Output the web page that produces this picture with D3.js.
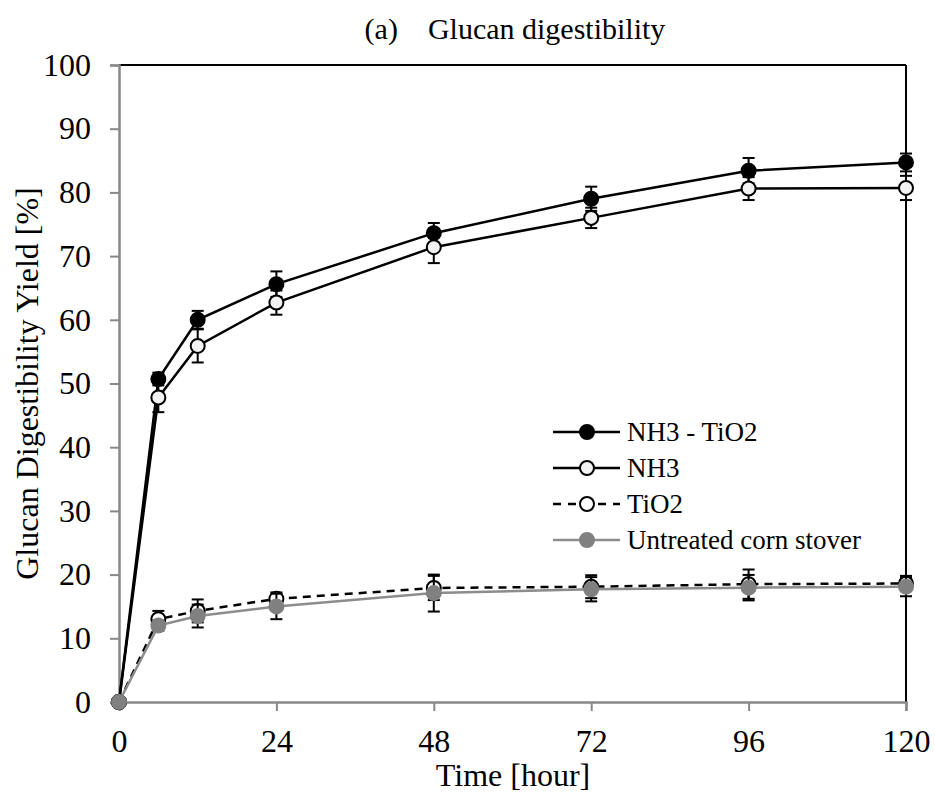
<!DOCTYPE html>
<html>
<head>
<meta charset="utf-8">
<script src="https://cdn.jsdelivr.net/npm/d3@7"></script>
<style>
html,body{margin:0;padding:0;background:#fff;}
svg text{font-family:"Liberation Serif","Times New Roman",serif;fill:#000;}
</style>
</head>
<body>
<svg id="chart" width="935" height="794"></svg>
<script>
const times = [0, 6, 12, 24, 48, 72, 96, 120];
const xTicks = [0, 24, 48, 72, 96, 120];
const yTicks = [0, 10, 20, 30, 40, 50, 60, 70, 80, 90, 100];

const seriesNames = ["NH3 - TiO2", "NH3", "TiO2", "Untreated corn stover"];
const nh3tio2 = [0, 50.7, 60.0, 65.6, 73.6, 79.0, 83.4, 84.7];
const nh3tio2Err = [0, 1.0, 1.4, 2.0, 1.6, 1.9, 2.0, 1.4];
const nh3 = [0, 47.8, 55.9, 62.7, 71.4, 76.0, 80.6, 80.7];
const nh3Err = [0, 2.3, 2.6, 1.9, 2.5, 1.6, 1.8, 1.9];
const tio2 = [0, 13.0, 14.3, 16.2, 17.9, 18.1, 18.5, 18.6];
const tio2Err = [0, 1.3, 1.8, 1.0, 1.9, 1.8, 2.3, 1.2];
const untreated = [0, 12.0, 13.5, 15.0, 17.1, 17.7, 17.95, 18.1];
const untreatedErr = [0, 0.8, 1.8, 2.0, 2.9, 1.9, 2.0, 1.5];

const styles = [
  {line:"#000", dash:null, fill:"#000", stroke:"#000", lw:2.5},
  {line:"#000", dash:null, fill:"#f2f2f2", stroke:"#000", lw:2.5},
  {line:"#000", dash:"8,6", fill:"#fff", stroke:"#000", lw:2.5},
  {line:"#8c8c8c", dash:null, fill:"#808080", stroke:"#808080", lw:2.5}
];
const seriesVals = [nh3tio2, nh3, tio2, untreated];
const seriesErrs = [nh3tio2Err, nh3Err, tio2Err, untreatedErr];

const svg = d3.select("#chart");
const L = 119, R = 906, T = 65, B = 702;
const x = d3.scaleLinear().domain([0, 120]).range([L, R]);
const y = d3.scaleLinear().domain([0, 100]).range([B, T]);

// border top/right
svg.append("line").attr("x1", L).attr("x2", R).attr("y1", T).attr("y2", T).attr("stroke", "#000").attr("stroke-width", 2);
svg.append("line").attr("x1", R).attr("x2", R).attr("y1", T).attr("y2", B).attr("stroke", "#000").attr("stroke-width", 2);

// axes
const yAxis = svg.append("g").attr("transform", `translate(${L},0)`)
  .call(d3.axisLeft(y).tickValues(yTicks).tickSize(9).tickPadding(19));
const xAxis = svg.append("g").attr("transform", `translate(0,${B})`)
  .call(d3.axisBottom(x).tickValues(xTicks).tickSize(9).tickPadding(18));
[yAxis, xAxis].forEach(g => {
  g.select(".domain").attr("stroke", "#888").attr("stroke-width", 2.5);
  g.selectAll(".tick line").attr("stroke", "#888").attr("stroke-width", 2);
  g.selectAll(".tick text").attr("font-size", 32).attr("fill", "#000");
});

// titles
svg.append("text").attr("x", 515).attr("y", 39).attr("text-anchor", "middle").attr("font-size", 30)
  .attr("xml:space", "preserve").text("(a)    Glucan digestibility");
svg.append("text").attr("x", 513).attr("y", 786).attr("text-anchor", "middle").attr("font-size", 32).text("Time [hour]");
svg.append("text").attr("transform", `translate(38,${(T + B) / 2}) rotate(-90)`).attr("text-anchor", "middle")
  .attr("font-size", 32).text("Glucan Digestibility Yield [%]");

// series
const line = d3.line().x((d, i) => x(times[i])).y(d => y(d));
seriesVals.forEach((vals, s) => {
  const st = styles[s];
  const g = svg.append("g");
  g.append("path").datum(vals).attr("d", line).attr("fill", "none")
    .attr("stroke", st.line).attr("stroke-width", st.lw).attr("stroke-dasharray", st.dash);
  const errs = seriesErrs[s];
  vals.forEach((v, i) => {
    if (!errs[i]) return;
    const cx = x(times[i]);
    const y1 = y(v + errs[i]), y2 = y(v - errs[i]);
    g.append("line").attr("x1", cx).attr("x2", cx).attr("y1", y1).attr("y2", y2).attr("stroke", "#000").attr("stroke-width", 2);
    [y1, y2].forEach(yy => g.append("line").attr("x1", cx - 6).attr("x2", cx + 6).attr("y1", yy).attr("y2", yy).attr("stroke", "#000").attr("stroke-width", 2));
  });
  g.selectAll("circle").data(vals).join("circle")
    .attr("cx", (d, i) => x(times[i])).attr("cy", d => y(d)).attr("r", 7)
    .attr("fill", st.fill).attr("stroke", st.stroke).attr("stroke-width", 2);
});

// legend
const legY0 = 432, legStep = 36;
seriesNames.forEach((name, s) => {
  const st = styles[s];
  const yy = legY0 + s * legStep;
  const g = svg.append("g");
  g.append("line").attr("x1", 553).attr("x2", 620).attr("y1", yy).attr("y2", yy)
    .attr("stroke", st.line).attr("stroke-width", st.lw).attr("stroke-dasharray", st.dash ? "8,7" : null);
  g.append("circle").attr("cx", 587).attr("cy", yy).attr("r", 7).attr("fill", st.fill).attr("stroke", st.stroke).attr("stroke-width", 2);
  g.append("text").attr("x", 627).attr("y", yy + 9).attr("font-size", 27).text(name);
});
</script>
</body>
</html>
